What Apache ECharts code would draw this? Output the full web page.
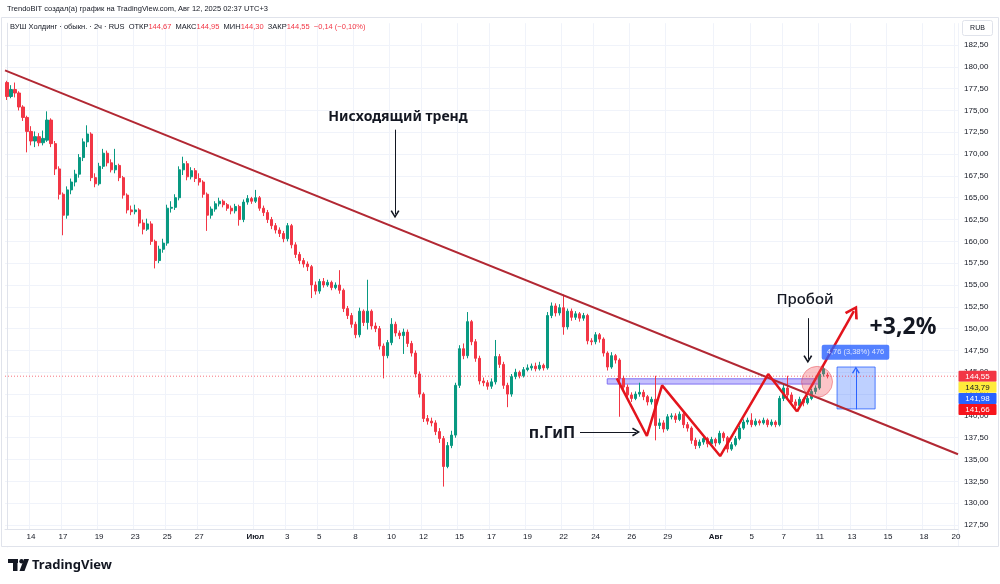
<!DOCTYPE html>
<html>
<head>
<meta charset="utf-8">
<script src="https://cdn.jsdelivr.net/npm/echarts@6/dist/echarts.min.js"></script>
<style>
html, body { margin: 0; padding: 0; background: #fff; }
#main { width: 1000px; height: 584px; }
</style>
</head>
<body>
<div id="main"></div>
<script>
var dom = document.getElementById('main');
var myChart = echarts.init(dom);

// 2h candles, each row is [open, close, low, high]
var ohlc = [
  [178.2,176.6,176.2,178.4],[176.6,177.4,176.4,177.9],[177.4,177.0,176.5,178.2],[177.0,175.4,175.0,177.2],
  [175.4,174.2,173.8,175.6],[174.2,172.6,170.2,174.4],[172.6,171.5,171.0,173.2],[171.5,172.0,170.8,172.6],
  [172.0,171.3,170.9,172.4],[171.3,171.8,171.0,172.7],[171.6,173.9,171.4,174.9],[173.9,171.2,170.8,174.1],
  [171.2,168.3,167.6,171.5],[168.3,165.4,164.8,168.6],[165.4,163.0,160.7,165.6],[163.0,165.9,162.6,166.3],
  [165.9,166.8,165.4,167.2],[166.8,167.7,166.3,168.2],[167.7,169.6,167.3,170.0],[169.6,171.4,169.2,171.8],
  [171.4,172.3,170.8,173.3],[172.3,167.3,166.9,172.5],[167.3,166.6,166.2,167.8],[166.6,168.6,166.4,169.0],
  [168.6,170.1,168.3,170.6],[170.1,169.0,168.6,170.4],[169.0,168.2,167.9,169.4],[168.2,168.7,167.8,170.6],
  [168.7,167.3,166.9,168.9],[167.3,165.3,164.9,167.5],[165.3,163.6,163.2,165.5],[163.6,163.4,163.0,164.1],
  [163.4,163.6,163.1,164.2],[163.6,162.1,161.7,163.8],[162.1,161.4,160.8,162.5],[161.4,162.0,161.2,162.6],
  [162.0,160.0,159.6,162.3],[160.0,157.8,156.9,160.2],[157.8,159.1,157.5,159.5],[159.1,159.8,158.7,160.3],
  [159.8,163.8,159.5,164.2],[163.8,163.9,163.3,164.6],[163.9,165.0,163.6,165.4],[165.0,168.2,164.7,168.6],
  [168.2,168.9,167.6,169.7],[168.9,167.4,167.0,169.2],[167.4,168.1,167.1,168.5],[168.1,167.2,166.8,168.4],
  [167.2,166.8,166.4,167.8],[166.8,165.4,165.0,167.0],[165.4,163.0,161.2,165.6],[163.0,163.7,162.6,164.0],
  [163.7,164.3,163.4,164.6],[164.3,164.6,164.0,165.0],[164.6,164.2,163.9,164.8],[164.2,163.8,163.5,164.4],
  [163.8,163.5,163.1,164.1],[163.5,164.0,163.2,164.3],[164.0,162.5,161.8,164.2],[162.5,164.5,162.2,164.8],
  [164.5,164.9,164.2,165.3],[164.9,164.6,164.3,165.1],[164.6,165.0,164.4,165.9],[165.0,163.8,163.5,165.2],
  [163.8,163.3,162.9,164.1],[163.3,162.5,162.1,163.6],[162.5,161.8,161.4,162.8],[161.8,161.3,160.9,162.1],
  [161.3,160.9,160.5,161.6],[160.9,160.3,159.9,161.2],[160.3,161.8,160.0,162.1],[161.8,159.6,159.2,162.0],
  [159.6,158.5,158.1,159.9],[158.5,157.8,157.4,158.8],[157.8,157.4,157.0,158.1],[157.4,157.1,156.6,157.7],
  [157.1,155.0,153.5,157.3],[155.0,154.3,153.9,155.4],[154.3,155.4,154.0,155.7],[155.4,155.0,154.7,155.8],
  [155.0,155.3,154.8,155.6],[155.3,154.7,154.4,155.5],[154.7,155.0,154.5,155.3],[155.0,154.4,154.0,156.7],
  [154.4,152.3,151.9,154.6],[152.3,151.5,151.1,152.6],[151.5,150.5,150.1,151.8],[150.5,149.3,148.9,150.8],
  [149.3,152.0,149.0,152.4],[152.0,150.7,150.3,152.2],[150.7,152.0,149.9,155.6],[152.0,150.3,149.9,152.2],
  [150.3,150.0,149.6,150.7],[150.0,148.0,147.6,150.3],[148.0,146.9,144.3,148.3],[146.9,148.4,146.6,148.7],
  [148.4,150.5,148.1,151.2],[150.5,149.5,149.1,150.8],[149.5,149.2,148.8,149.8],[149.2,149.6,147.1,150.0],
  [149.6,148.3,147.9,149.9],[148.3,147.2,146.8,148.6],[147.2,144.8,144.4,147.5],[144.8,142.5,142.1,145.1],
  [142.5,139.7,139.3,142.7],[139.7,139.4,139.0,140.1],[139.4,139.2,138.8,139.8],[139.2,138.2,137.8,139.5],
  [138.2,137.4,136.9,138.6],[137.4,134.2,131.9,137.7],[134.2,136.6,134.0,137.0],[136.6,137.8,136.3,138.3],
  [137.8,143.5,137.5,143.8],[143.5,147.7,143.2,148.1],[147.7,146.9,146.5,148.3],[146.9,150.8,146.6,151.9],
  [150.8,148.5,148.1,151.0],[148.5,146.6,146.2,148.8],[146.6,144.0,143.6,146.9],[144.0,143.8,143.4,144.4],
  [143.8,143.4,143.0,144.1],[143.4,143.9,143.1,144.3],[143.9,146.8,143.6,148.7],[146.8,145.9,145.5,147.1],
  [145.9,143.5,143.1,146.2],[143.5,142.5,141.0,143.8],[142.5,144.5,142.2,144.8],[144.5,145.0,144.2,145.4],
  [145.0,144.6,144.3,145.2],[144.6,145.3,144.4,145.6],[145.3,145.5,145.1,145.9],[145.5,145.7,145.2,146.0],
  [145.7,145.4,145.1,146.1],[145.4,145.8,145.2,146.2],[145.8,145.5,145.2,146.0],[145.5,151.5,145.3,151.9],
  [151.5,152.6,151.2,153.0],[152.6,151.8,151.4,152.9],[151.8,152.4,151.5,152.8],[152.4,150.2,149.3,153.9],
  [150.2,152.0,149.9,152.3],[152.0,151.3,150.9,152.3],[151.3,151.7,151.0,152.0],[151.7,151.2,150.8,151.9],
  [151.2,151.5,150.9,151.8],[151.5,148.6,148.2,151.7],[148.6,148.5,148.1,148.9],[148.5,149.3,148.2,149.6],
  [149.3,148.8,148.4,149.5],[148.8,147.2,146.8,149.0],[147.2,145.6,145.2,147.4],[145.6,146.9,145.4,147.3],
  [146.9,146.4,146.0,147.1],[146.4,144.3,139.9,146.6],[144.3,143.3,142.9,144.6],[143.3,142.4,142.0,143.6],
  [142.4,142.0,141.6,142.7],[142.0,142.5,141.8,142.8],[142.5,142.7,142.2,143.8],[142.7,142.2,141.8,143.0],
  [142.2,141.6,141.2,142.4],[141.6,141.9,141.3,142.2],[141.9,138.9,137.2,144.6],[138.9,139.2,138.5,139.7],
  [139.2,138.5,138.1,139.5],[138.5,139.9,138.3,140.2],[139.9,140.0,139.6,140.3],[140.0,139.6,139.2,140.3],
  [139.6,140.2,139.4,140.5],[140.2,139.0,138.6,140.4],[139.0,138.6,138.2,139.3],[138.6,137.2,136.8,138.8],
  [137.2,136.6,136.2,137.5],[136.6,137.0,136.3,137.3],[137.0,137.4,136.7,137.7],[137.4,136.8,136.4,137.6],
  [136.8,137.3,136.6,137.6],[137.3,136.9,136.5,137.5],[136.9,138.0,136.7,138.3],[138.0,137.5,137.1,138.2],
  [137.5,136.2,135.8,137.7],[136.2,136.7,136.0,137.0],[136.7,137.4,136.5,137.7],[137.4,138.6,137.2,138.9],
  [138.6,139.3,138.4,139.6],[139.3,139.5,139.0,139.8],[139.5,139.0,138.7,140.3],[139.0,139.4,138.8,139.7],
  [139.4,139.2,138.9,139.6],[139.2,139.5,139.0,139.8],[139.5,139.0,138.7,139.7],[139.0,139.3,138.8,139.6],
  [139.3,139.0,138.7,139.5],[139.0,142.0,138.8,142.3],[142.0,143.2,141.7,143.6],[143.2,142.4,142.0,144.6],
  [142.4,141.6,141.2,142.7],[141.6,141.2,140.8,141.9],[141.2,141.9,141.0,142.2],[141.9,141.5,141.1,142.1],
  [141.5,142.0,141.3,142.3],[142.0,142.8,141.8,143.1],[142.8,143.2,142.5,143.5],[143.2,144.8,143.0,145.1],
  [144.8,145.4,144.5,145.9],[144.67,144.55,144.30,144.95]
];

// time scale: candle slots incl. empty future space on the right
var slotCount = 238;
var tickIndex = [6, 14, 23, 32, 40, 48, 62, 70, 78, 87, 96, 104, 113, 121, 130, 139, 147, 156, 165, 177, 186, 194, 203, 211, 220, 229, 237];
var tickText = ['14', '17', '19', '23', '25', '27', 'Июл', '3', '5', '8', '10', '12', '15', '17', '19', '22', '24', '26', '29', 'Авг', '5', '7', '11', '13', '15', '18', '20'];
var monthTicks = ['Июл', 'Авг'];

// drawings, in [slot, price]
var trendLine = [[-0.5, 179.6], [237.5, 135.6]];
var patternLine = [[152.3, 144.3], [159.8, 137.7], [163.6, 143.5], [178.1, 135.4], [190.1, 144.8], [197.3, 140.5]];
var targetArrow = [[197.3, 140.5], [211.5, 152.0]];
var levelBand = [[149.9, 144.25], [203.0, 143.65]];
var breakoutPoint = [202.3, 143.9];
var measureBox = [[207.3, 145.6], [216.8, 140.8]];
var measureArrow = [[212.0, 140.75], [212.0, 145.25]];
var measureLabelAt = [211.9, 147.3];
var trendArrow = [[96.9, 172.8], [96.9, 163.1]];
var breakArrow = [[200.0, 151.2], [200.0, 146.5]];
var patternArrow = [[143.1, 138.15], [157.1, 138.15]];
var lastPrice = 144.55;
var priceTags = [144.55, 143.79, 141.98, 141.66];
var priceTagText = ['144,55', '143,79', '141,98', '141,66'];

var categories = [];
for (var i = 0; i < slotCount; i++) categories.push(String(i));

var tickMap = {};
tickIndex.forEach(function (idx, k) { tickMap[idx] = tickText[k]; });

var chevron = 'path://M5,0 L10,9 L8.4,10 L5,3.6 L1.6,10 L0,9 Z';
var upColor = '#089981';
var downColor = '#f23645';
var gridColor = '#f0f3fa';
var textColor = '#131722';

function fmtPrice(v) {
    return v.toFixed(2).replace('.', ',');
}

function arrowLine(points, color, width, size) {
    return {
        symbol: ['none', chevron],
        symbolSize: size,
        silent: true,
        label: { show: false },
        lineStyle: { color: color, width: width, type: 'solid' },
        data: [[{ coord: points[0] }, { coord: points[1] }]]
    };
}

option = {
    animation: false,
    backgroundColor: '#ffffff',
    textStyle: { fontFamily: '"Liberation Sans", Arial, sans-serif' },
    grid: {
        left: 5,
        right: 42,
        top: 23.2,
        bottom: 37.2,
        containLabel: false,
        outerBoundsMode: 'none'
    },
    xAxis: [
        {
            type: 'category',
            data: categories,
            boundaryGap: true,
            axisLine: { show: false },
            axisTick: { show: false },
            axisLabel: { show: false },
            splitLine: {
                show: true,
                interval: function (index) { return tickMap[index] != null; },
                lineStyle: { color: gridColor, width: 1 }
            },
            z: 0
        },
        {
            type: 'value',
            min: -0.5,
            max: slotCount - 0.5,
            show: false
        },
        {
            type: 'category',
            data: categories,
            position: 'bottom',
            offset: -18,
            boundaryGap: true,
            axisLine: { show: true, lineStyle: { color: '#e0e3eb' } },
            axisTick: { show: false },
            splitLine: { show: false },
            axisLabel: {
                interval: function (index) { return tickMap[index] != null; },
                formatter: function (value, index) {
                    var t = tickMap[index];
                    if (t == null) return '';
                    return monthTicks.indexOf(t) >= 0 ? '{m|' + t + '}' : t;
                },
                margin: 4,
                fontSize: 8,
                color: textColor,
                rich: { m: { fontSize: 8, fontWeight: 'bold', color: textColor } }
            },
            z: 5
        }
    ],
    yAxis: {
        type: 'value',
        position: 'right',
        min: 125,
        max: 185,
        interval: 2.5,
        axisLine: { show: true, lineStyle: { color: '#e0e3eb' } },
        axisTick: { show: false },
        axisLabel: {
            margin: 6,
            fontSize: 8,
            color: textColor,
            formatter: function (v) {
                if (v <= 125 || v >= 185) return '';
                return fmtPrice(v);
            }
        },
        splitLine: {
            show: true,
            showMinLine: false,
            showMaxLine: false,
            lineStyle: { color: gridColor, width: 1 }
        }
    },
    series: [
        {
            name: 'ВУШ',
            type: 'candlestick',
            xAxisIndex: 0,
            yAxisIndex: 0,
            data: ohlc,
            barWidth: 2.6,
            itemStyle: {
                color: upColor,
                color0: downColor,
                borderColor: upColor,
                borderColor0: downColor,
                borderWidth: 1
            },
            z: 2
        },
        {
            name: 'last',
            type: 'line',
            xAxisIndex: 1,
            data: [[-0.5, lastPrice], [slotCount - 0.5, lastPrice]],
            symbol: 'none',
            lineStyle: { color: '#f23645', width: 1, type: [1, 2], opacity: 0.7 },
            z: 1
        },
        {
            name: 'level',
            type: 'line',
            xAxisIndex: 1,
            data: [],
            markArea: {
                silent: true,
                itemStyle: { color: 'rgba(126,116,250,0.45)', borderColor: '#7f6ff2', borderWidth: 1 },
                data: [[{ coord: levelBand[0] }, { coord: levelBand[1] }]]
            },
            z: 3
        },
        {
            name: 'measure',
            type: 'line',
            xAxisIndex: 1,
            data: [],
            markArea: {
                silent: true,
                itemStyle: { color: 'rgba(41,98,255,0.3)', borderColor: 'rgba(41,98,255,0.8)', borderWidth: 1 },
                data: [[{ coord: measureBox[0] }, { coord: measureBox[1] }]]
            },
            markLine: arrowLine(measureArrow, '#2962ff', 1, [8, 7]),
            z: 3
        },
        {
            name: 'trend',
            type: 'line',
            xAxisIndex: 1,
            data: trendLine,
            symbol: 'none',
            lineStyle: { color: '#b22833', width: 2 },
            z: 4
        },
        {
            name: 'pattern',
            type: 'line',
            xAxisIndex: 1,
            data: patternLine,
            symbol: 'none',
            lineStyle: { color: '#e3141c', width: 2.5 },
            markLine: arrowLine(targetArrow, '#e3141c', 2.5, [15, 13]),
            z: 5
        },
        {
            name: 'breakout',
            type: 'scatter',
            xAxisIndex: 1,
            data: [breakoutPoint],
            symbolSize: 31,
            itemStyle: { color: 'rgba(242,82,92,0.42)', borderColor: 'rgba(230,60,70,0.55)', borderWidth: 1 },
            z: 6
        },
        {
            name: 'measureLabel',
            type: 'scatter',
            xAxisIndex: 1,
            data: [measureLabelAt],
            symbolSize: 1,
            itemStyle: { color: 'transparent' },
            label: {
                show: true,
                position: 'inside',
                formatter: '4,76 (3,38%) 476',
                backgroundColor: '#2962ff',
                color: '#ffffff',
                fontSize: 7.5,
                padding: [4, 5, 3, 5],
                borderRadius: 2
            },
            z: 7
        },
        {
            name: 'arrows',
            type: 'line',
            xAxisIndex: 1,
            data: [],
            markLine: {
                symbol: ['none', chevron],
                symbolSize: [9, 8],
                silent: true,
                label: { show: false },
                lineStyle: { color: textColor, width: 1, type: 'solid' },
                data: [
                    [{ coord: trendArrow[0] }, { coord: trendArrow[1] }],
                    [{ coord: breakArrow[0] }, { coord: breakArrow[1] }],
                    [{ coord: patternArrow[0] }, { coord: patternArrow[1] }]
                ]
            },
            z: 7
        }
    ]
};

var baseGraphics = [
    { id: 'frame', type: 'rect', shape: { x: 1.5, y: 17.5, width: 997, height: 529 }, style: { fill: null, stroke: '#e0e3eb', lineWidth: 1 }, z: 10 },
    { id: 'timeStrip', type: 'rect', shape: { x: 2, y: 529.3, width: 956, height: 17 }, style: { fill: '#ffffff' }, z: 1 },
    { id: 'credit', type: 'text', x: 7, y: 9, style: { text: 'TrendoBIT создал(а) график на TradingView.com, Авг 12, 2025 02:37 UTC+3', font: '7.5px "Liberation Sans"', fill: textColor, verticalAlign: 'middle' }, z: 10 },
    {
        id: 'legend', type: 'text', x: 10, y: 27, z: 10,
        style: {
            text: '{d|ВУШ Холдинг · обыкн. · 2ч · RUS  ОТКР}{r|144,67}{d|  МАКС}{r|144,95}{d|  МИН}{r|144,30}{d|  ЗАКР}{r|144,55}{r|  −0,14 (−0,10%)}',
            verticalAlign: 'middle',
            rich: {
                d: { fontSize: 7.5, fontFamily: 'Liberation Sans', fill: textColor, color: textColor },
                r: { fontSize: 7.5, fontFamily: 'Liberation Sans', fill: '#f23645', color: '#f23645' }
            }
        }
    },
    { id: 'rubBox', type: 'rect', shape: { x: 962.5, y: 20.5, width: 30, height: 15, r: 2 }, style: { fill: '#fff', stroke: '#e0e3eb', lineWidth: 1 }, z: 10 },
    { id: 'rub', type: 'text', x: 977.5, y: 28, style: { text: 'RUB', font: '7px "Liberation Sans"', fill: textColor, align: 'center', verticalAlign: 'middle' }, z: 11 },
    { id: 'tTrend', type: 'text', x: 398, y: 117, style: { text: 'Нисходящий тренд', font: 'bold 14px "Noto Sans"', fill: textColor, align: 'center', verticalAlign: 'middle' }, z: 12 },
    { id: 'tBreak', type: 'text', x: 805, y: 300, style: { text: 'Пробой', font: '500 15px "Noto Sans"', fill: textColor, align: 'center', verticalAlign: 'middle' }, z: 12 },
    { id: 'tGain', type: 'text', x: 903, y: 327, style: { text: '+3,2%', font: 'bold 23px "Noto Sans"', fill: textColor, align: 'center', verticalAlign: 'middle' }, z: 12 },
    { id: 'tPattern', type: 'text', x: 552, y: 433, style: { text: 'п.ГиП', font: 'bold 16px "Noto Sans"', fill: textColor, align: 'center', verticalAlign: 'middle' }, z: 12 },
    { id: 'logoBar', type: 'rect', shape: { x: 8, y: 559, width: 10, height: 4 }, style: { fill: textColor }, z: 10 },
    { id: 'logoStem', type: 'rect', shape: { x: 13, y: 559, width: 4.5, height: 12 }, style: { fill: textColor }, z: 10 },
    { id: 'logoDot', type: 'circle', shape: { cx: 21.5, cy: 561.2, r: 2.2 }, style: { fill: textColor }, z: 10 },
    { id: 'logoSlash', type: 'polygon', shape: { points: [[24, 559], [29, 559], [24.5, 571], [19.5, 571]] }, style: { fill: textColor }, z: 10 },
    { id: 'logoText', type: 'text', x: 32, y: 565, style: { text: 'TradingView', font: 'bold 13px "Noto Sans"', fill: textColor, verticalAlign: 'middle' }, z: 10 }
];

if (option && typeof option === 'object') {
    option.graphic = { elements: baseGraphics };
    myChart.setOption(option, true);
}

// price tags on the scale, pushed down when they overlap (like the TV scale)
var tagColors = [['#f23645', '#ffffff'], ['#ffeb3b', '#131722'], ['#2962ff', '#ffffff'], ['#f7141c', '#ffffff']];
var tagGraphics = [];
var prevBottom = -1e9;
priceTags.forEach(function (p, k) {
    var y = myChart.convertToPixel({ yAxisIndex: 0 }, p);
    var top = Math.max(y - 5.5, prevBottom);
    prevBottom = top + 11;
    tagGraphics.push({ id: 'tagBox' + k, type: 'rect', shape: { x: 958.5, y: top, width: 38, height: 11, r: 1 }, style: { fill: tagColors[k][0] }, z: 20 });
    tagGraphics.push({ id: 'tagText' + k, type: 'text', x: 977.5, y: top + 5.8, style: { text: priceTagText[k], font: '8px "Liberation Sans"', fill: tagColors[k][1], align: 'center', verticalAlign: 'middle' }, z: 21 });
});
myChart.setOption({ graphic: { elements: baseGraphics.concat(tagGraphics) } });
</script>
</body>
</html>
